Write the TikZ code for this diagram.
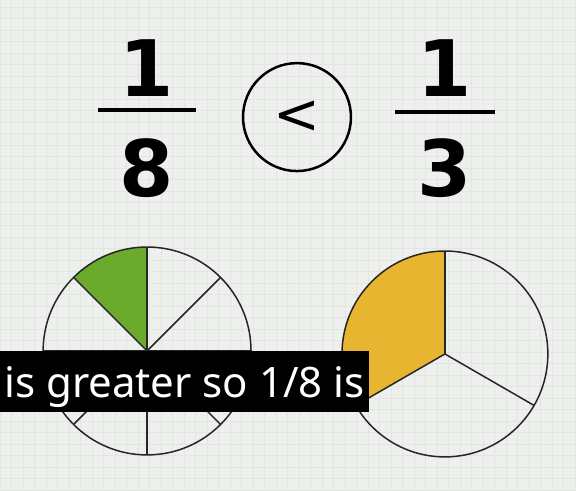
\documentclass[tikz,border=0pt]{standalone}
\usepackage{fontspec}
\setmainfont{DejaVu Sans}
\newfontfamily\capfont{Noto Sans}
\usetikzlibrary{calc,positioning}
\definecolor{paper}{HTML}{EEF0EE}
\definecolor{gridline}{HTML}{E2E5E2}
\definecolor{leafgreen}{HTML}{6AAB2E}
\definecolor{mustard}{HTML}{E8B530}
\tikzset{
  digit/.style={font=\fontsize{78}{78}\selectfont\bfseries, inner sep=0pt},
  fracbar/.style={line width=4.5pt},
  pie/.style={line width=1.5pt, draw=black!85},
}
\begin{document}
\begin{tikzpicture}[x=1pt,y=1pt]
    % paper
    \fill[paper] (0,0) rectangle (576,490);
    \draw[gridline, line width=0.3pt, step=11.5pt] (0,0) grid (576,490);
    \useasboundingbox (0,0) rectangle (576,490);

    % 1/8 < 1/3
    \node[digit] (onea) at (147,422) {1};
    \node[digit] (eight) at (147,322) {8};
    \coordinate (bara) at (98,380);
    \coordinate (barb) at (196,380);
    \draw[fracbar] (bara) -- (barb);
    \node[draw, circle, line width=2.5pt, minimum size=108pt, inner sep=0pt,
          font=\fontsize{56}{56}\selectfont] (lessthan) at (297,373) {<};
    \node[digit] (oneb) at (445,422) {1};
    \node[digit] (three) at (445,322) {3};
    \coordinate (barc) at (395,378);
    \coordinate (bard) at (495,378);
    \draw[fracbar] (barc) -- (bard);

    % one eighth
    \coordinate (lc) at (147,139);
    \fill[leafgreen] (lc) -- ($(lc)+(90:104pt)$) arc[start angle=90, end angle=135, radius=104pt] -- cycle;
    \draw[pie] (lc) circle[radius=104pt];
    \foreach \a in {0,45,...,315}
      \draw[pie] (lc) -- ($(lc)+(\a:104pt)$);

    % one third
    \coordinate (rc) at (445,136);
    \fill[mustard] (rc) -- ($(rc)+(90:103pt)$) arc[start angle=90, end angle=210, radius=103pt] -- cycle;
    \draw[pie] (rc) circle[radius=103pt];
    \foreach \a in {90,210,330}
      \draw[pie] (rc) -- ($(rc)+(\a:103pt)$);

    % caption
    \node[fill=black, text=white, anchor=north west, minimum height=61pt, inner xsep=4pt,
          text depth=0pt, font=\capfont\fontsize{42}{42}\selectfont] (caption) at (0,139) {is greater so 1/8 is};
\end{tikzpicture}
\end{document}
